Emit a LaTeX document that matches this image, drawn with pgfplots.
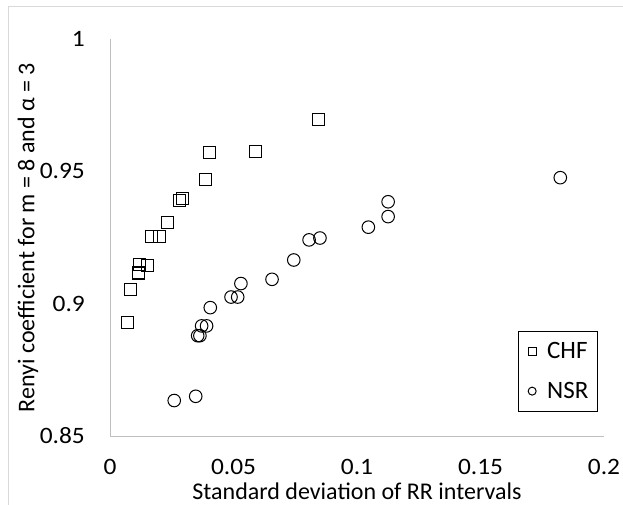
\documentclass[border=0pt]{standalone}
\usepackage{fontspec}
\setmainfont{Carlito}
\newfontfamily\tickfont[FakeStretch=1.08]{Carlito}
\usepackage{pgfplots}
\pgfplotsset{compat=1.18}

\begin{document}
\begin{tikzpicture}[x=1pt,y=1pt]
% page = 623 x 505, plot box at (0,0)-(494,397)
\useasboundingbox (-110,-69) rectangle (513,436);
\draw[black!15, line width=1pt] (-101,-69) -- (-101,429) -- (513,429);
\begin{axis}[
    at={(0,0)}, anchor=south west,
    scale only axis, width=494pt, height=397pt,
    xmin=0, xmax=0.2, ymin=0.85, ymax=1,
    xtick={0,0.05,0.1,0.15,0.2}, xticklabels={0,0.05,0.1,0.15,0.2},
    ytick={0.85,0.9,0.95,1}, yticklabels={0.85,0.9,0.95,1},
    axis x line*=bottom, axis y line*=left,
    axis line style={draw=black!25, line width=0.9pt, -},
    major tick length=0pt,
    tick label style={font=\tickfont\fontsize{23.5}{28}\selectfont, inner sep=0pt},
    xticklabel shift=23pt, yticklabel shift=25pt,
    label style={font=\fontsize{24}{29}\selectfont, inner sep=0pt},
    xlabel={Standard deviation of RR intervals},
    ylabel={Renyi coefficient for m = 8 and α = 3},
    xlabel style={at={(axis description cs:0.5,-0.159)}, anchor=base},
    ylabel style={at={(axis description cs:-0.166,0.5)}, anchor=center},
    legend style={at={(axis description cs:0.9885,0.2645)}, anchor=north east,
        draw=black, line width=0.9pt, font=\fontsize{25}{29}\selectfont,
        inner xsep=9.5pt, inner ysep=12.5pt, row sep=24.7pt, column sep=11pt,
        nodes={inner sep=0pt, text height=15pt, text depth=0pt}},
    legend cell align=left,
    legend image code/.code={\draw[#1, mark size=4pt] plot coordinates {(4pt,0pt)};},
]
\addplot[only marks, mark=square, mark size=6pt,
    mark options={draw=black, fill=none, line width=1pt}] coordinates {
    (0.0846,0.9695)
    (0.0401,0.9572)
    (0.0588,0.9574)
    (0.0387,0.9471)
    (0.0283,0.9389)
    (0.0293,0.9399)
    (0.0232,0.9308)
    (0.0169,0.9252)
    (0.0202,0.9252)
    (0.0119,0.9147)
    (0.0150,0.9144)
    (0.0115,0.9119)
    (0.0115,0.9113)
    (0.0084,0.9053)
    (0.0072,0.8927)
};
\addlegendentry{CHF}
\addplot[only marks, mark=o, mark size=6.3pt,
    mark options={draw=black, fill=none, line width=1pt}] coordinates {
    (0.1823,0.9476)
    (0.1126,0.9385)
    (0.1126,0.9329)
    (0.1046,0.9289)
    (0.0806,0.9241)
    (0.0850,0.9248)
    (0.0744,0.9165)
    (0.0656,0.9092)
    (0.0530,0.9076)
    (0.0490,0.9025)
    (0.0517,0.9025)
    (0.0406,0.8985)
    (0.0371,0.8916)
    (0.0391,0.8916)
    (0.0355,0.8879)
    (0.0364,0.8879)
    (0.0347,0.8650)
    (0.0260,0.8634)
};
\addlegendentry{NSR}
\end{axis}
\end{tikzpicture}
\end{document}
